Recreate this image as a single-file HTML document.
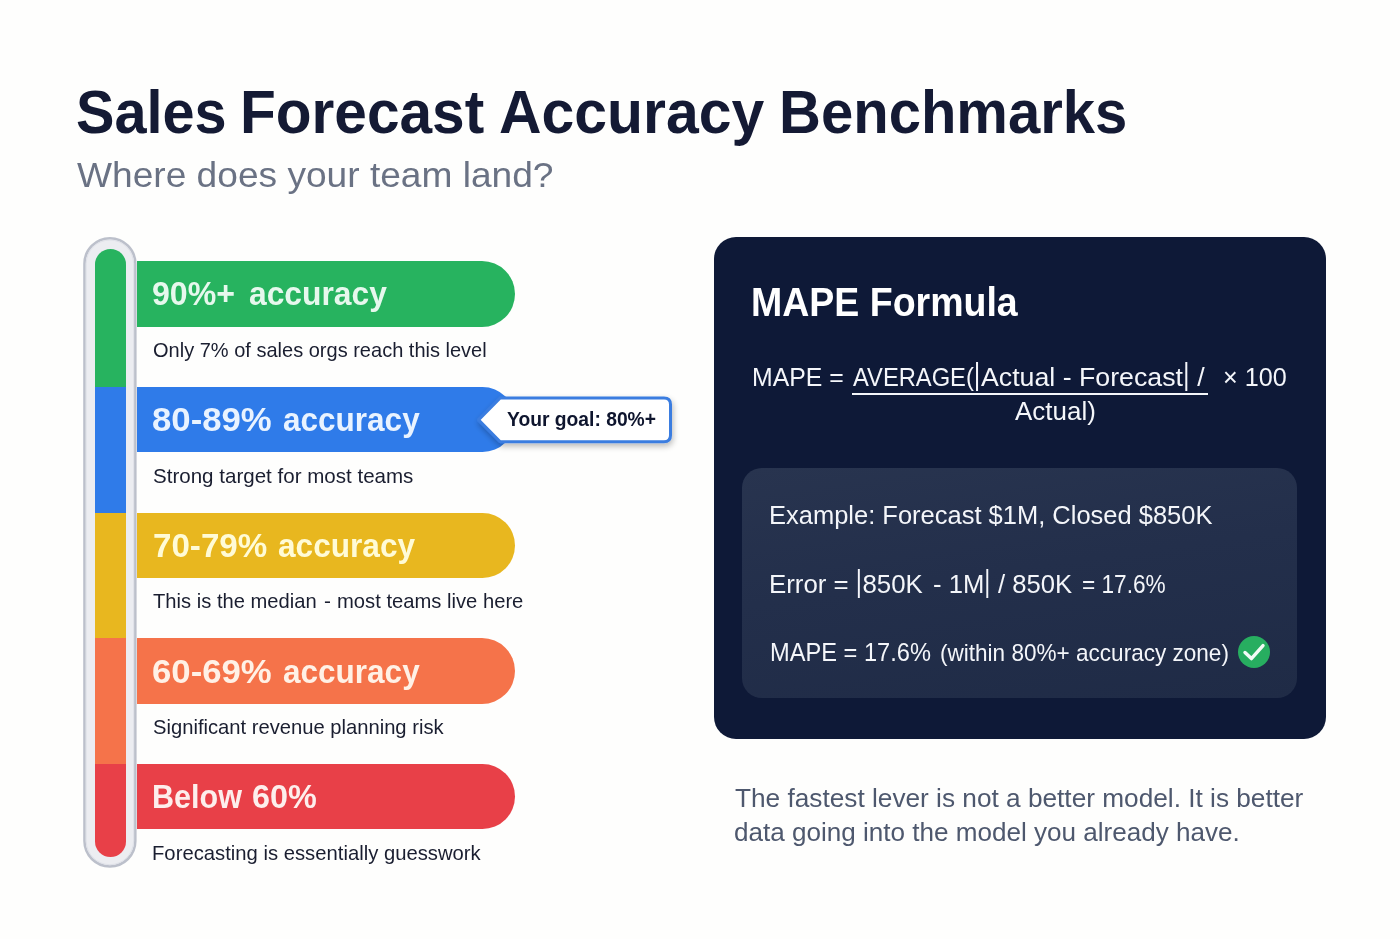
<!DOCTYPE html>
<html><head><meta charset="utf-8"><title>Sales Forecast Accuracy Benchmarks</title>
<style>
html,body{margin:0;padding:0}
body{width:1400px;height:939px;position:relative;overflow:hidden;background:#fefefd;
 font-family:"Liberation Sans",sans-serif}
.t{position:absolute;white-space:nowrap;line-height:1;transform-origin:0 0}
.bar{position:absolute;left:136.6px;width:378.4px;height:65.3px;
 border-radius:0 33px 33px 0}
.fill{position:absolute;left:94.6px;width:31.4px;border-radius:15.7px;overflow:hidden}
.card{position:absolute;left:713.5px;top:236.8px;width:612.3px;height:502.5px;border-radius:22px;background:#0e1937}
.inner{position:absolute;left:742.2px;top:468.2px;width:555.2px;height:230.2px;border-radius:20px;background:linear-gradient(172deg,#28344f 0%,#232f4b 45%,#1f2b46 100%)}
.vb{position:relative;color:transparent}
.vb::after{content:"";position:absolute;left:50%;margin-left:-1.05px;width:2.1px;top:-0.2px;bottom:0.9px;background:#f4f6fa}
.frac{position:absolute;left:851.5px;top:392.9px;width:356.8px;height:2.1px;background:#f4f6fa}
</style></head><body>
<svg style="position:absolute;left:80px;top:230px" width="60" height="645" viewBox="80 230 60 645"><rect x="84.45" y="238.25" width="50.9" height="628.2" rx="25.45" fill="#ecedf1" stroke="#bcc0cb" stroke-width="2.5"/><rect x="86.2" y="240" width="47.4" height="624.7" rx="23.7" fill="none" stroke="#dfe1e8" stroke-width="1"/></svg><div class="fill" style="top:248.7px;height:607.9px"><div style="position:absolute;left:0;width:100%;top:0.0px;height:139.0px;background:#27b35f"></div><div style="position:absolute;left:0;width:100%;top:138.5px;height:126.3px;background:#2f7be9"></div><div style="position:absolute;left:0;width:100%;top:264.3px;height:125.9px;background:#e8b71f"></div><div style="position:absolute;left:0;width:100%;top:389.7px;height:126.2px;background:#f5734a"></div><div style="position:absolute;left:0;width:100%;top:515.4px;height:93.0px;background:#e84048"></div></div>
<div class="bar" style="top:261.3px;background:#27b35f"></div>
<div class="bar" style="top:387.2px;background:#2f7be9"></div>
<div class="bar" style="top:513.0px;background:#e8b71f"></div>
<div class="bar" style="top:638.4px;background:#f5734a"></div>
<div class="bar" style="top:764.1px;background:#e84048"></div>
<svg style="position:absolute;left:460px;top:380px;overflow:visible" width="240" height="90" viewBox="460 380 240 90">
 <defs><filter id="ds" x="-20%" y="-40%" width="140%" height="200%">
  <feGaussianBlur in="SourceAlpha" stdDeviation="3"/><feOffset dx="1" dy="3"/>
  <feComponentTransfer><feFuncA type="linear" slope="0.28"/></feComponentTransfer>
  <feMerge><feMergeNode/><feMergeNode in="SourceGraphic"/></feMerge></filter></defs>
 <path filter="url(#ds)" d="M500.2 397.9 H664 Q670.5 397.9 670.5 404.4 V435.3 Q670.5 441.8 664 441.8 H500.2 L478.5 419.85 Z"
  fill="#ffffff" stroke="#3a7de0" stroke-width="3" stroke-linejoin="round"/>
</svg>
<div class="card"></div>
<div class="inner"></div>
<div class="frac"></div>
<svg style="position:absolute;left:1238.4px;top:635.7px" width="32" height="32" viewBox="0 0 32 32">
 <circle cx="16" cy="16" r="16" fill="#27ae60"/>
 <path d="M7.0 16.5 L13.4 22.6 L25.0 9.6" fill="none" stroke="#f3fbf6" stroke-width="3.4" stroke-linecap="round" stroke-linejoin="round"/>
</svg>
<div class="t" style="left:76.16px;top:82px;font-size:61.05px;font-weight:700;color:#141a34;transform:scaleX(0.9446)">Sales</div>
<div class="t" style="left:239.91px;top:82px;font-size:61.05px;font-weight:700;color:#141a34;transform:scaleX(0.9595)">Forecast</div>
<div class="t" style="left:498.54px;top:82px;font-size:61.05px;font-weight:700;color:#141a34;transform:scaleX(0.9646)">Accuracy</div>
<div class="t" style="left:779.20px;top:82px;font-size:61.05px;font-weight:700;color:#141a34;transform:scaleX(0.9506)">Benchmarks</div>
<div class="t" style="left:76.90px;top:158px;font-size:34.88px;font-weight:400;color:#6a7284;transform:scaleX(1.0641)">Where does your team land?</div>
<div class="t" style="left:152.42px;top:278px;font-size:32.7px;font-weight:700;color:#e6f8ed;transform:scaleX(0.9815)">90%+</div>
<div class="t" style="left:248.60px;top:278px;font-size:32.7px;font-weight:700;color:#e6f8ed;transform:scaleX(0.9726)">accuracy</div>
<div class="t" style="left:153.40px;top:340px;font-size:20.2px;font-weight:400;color:#1a1e30;transform:scaleX(0.9913)">Only 7% of sales orgs reach this level</div>
<div class="t" style="left:152.34px;top:404px;font-size:32.7px;font-weight:700;color:#e9f3ff;transform:scaleX(1.0627)">80-89%</div>
<div class="t" style="left:282.90px;top:404px;font-size:32.7px;font-weight:700;color:#e9f3ff;transform:scaleX(0.9641)">accuracy</div>
<div class="t" style="left:153.40px;top:466px;font-size:20.2px;font-weight:400;color:#1a1e30;transform:scaleX(1.0179)">Strong target for most teams</div>
<div class="t" style="left:152.99px;top:530px;font-size:32.7px;font-weight:700;color:#fffbd6;transform:scaleX(1.0134)">70-79%</div>
<div class="t" style="left:278.00px;top:530px;font-size:32.7px;font-weight:700;color:#fffbd6;transform:scaleX(0.9669)">accuracy</div>
<div class="t" style="left:153.40px;top:591px;font-size:20.2px;font-weight:400;color:#1a1e30;transform:scaleX(0.9995)">This is the median</div>
<div class="t" style="left:323.60px;top:591px;font-size:20.2px;font-weight:400;color:#1a1e30;transform:scaleX(1.0333)">-</div>
<div class="t" style="left:336.80px;top:591px;font-size:20.2px;font-weight:400;color:#1a1e30;transform:scaleX(1.0005)">most teams live here</div>
<div class="t" style="left:152.34px;top:656px;font-size:32.7px;font-weight:700;color:#fff1e6;transform:scaleX(1.0627)">60-69%</div>
<div class="t" style="left:282.90px;top:656px;font-size:32.7px;font-weight:700;color:#fff1e6;transform:scaleX(0.9641)">accuracy</div>
<div class="t" style="left:153.40px;top:717px;font-size:20.2px;font-weight:400;color:#1a1e30;transform:scaleX(0.9998)">Significant revenue planning risk</div>
<div class="t" style="left:151.53px;top:781px;font-size:32.7px;font-weight:700;color:#fdeeec;transform:scaleX(0.9343)">Below</div>
<div class="t" style="left:252.41px;top:781px;font-size:32.7px;font-weight:700;color:#fdeeec;transform:scaleX(0.9898)">60%</div>
<div class="t" style="left:152.40px;top:843px;font-size:20.2px;font-weight:400;color:#1a1e30;transform:scaleX(1.0033)">Forecasting is essentially guesswork</div>
<div class="t" style="left:507.20px;top:409px;font-size:20.35px;font-weight:700;color:#0e152e;transform:scaleX(0.9470)">Your goal: 80%+</div>
<div class="t" style="left:751.42px;top:283px;font-size:39.97px;font-weight:700;color:#ffffff;transform:scaleX(0.9381)">MAPE Formula</div>
<div class="t" style="left:751.72px;top:364px;font-size:26.45px;font-weight:400;color:#f4f6fa;transform:scaleX(0.9384)">MAPE =</div>
<div class="t" style="left:853.00px;top:364px;font-size:26.45px;font-weight:400;color:#f4f6fa;transform:scaleX(0.8972)">AVERAGE(</div>
<div class="t" style="left:974.28px;top:364px;font-size:26.45px;font-weight:400;color:#f4f6fa;transform:scaleX(1.0110)"><span class="vb">|</span>Actual - Forecast<span class="vb">|</span> /</div>
<div class="t" style="left:1222.55px;top:364px;font-size:26.45px;font-weight:400;color:#f4f6fa;transform:scaleX(0.9526)">× 100</div>
<div class="t" style="left:1014.90px;top:398px;font-size:26.45px;font-weight:400;color:#f4f6fa;transform:scaleX(0.9819)">Actual)</div>
<div class="t" style="left:769.37px;top:502px;font-size:26.45px;font-weight:400;color:#f4f6fa;transform:scaleX(0.9642)">Example: Forecast $1M, Closed $850K</div>
<div class="t" style="left:769.35px;top:571px;font-size:26.45px;font-weight:400;color:#f4f6fa;transform:scaleX(0.9765)">Error = <span class="vb">|</span>850K</div>
<div class="t" style="left:933.03px;top:571px;font-size:26.45px;font-weight:400;color:#f4f6fa;transform:scaleX(0.9693)">- 1M<span class="vb">|</span> / 850K</div>
<div class="t" style="left:1081.64px;top:571px;font-size:26.45px;font-weight:400;color:#f4f6fa;transform:scaleX(0.8562)">= 17.6%</div>
<div class="t" style="left:769.51px;top:639px;font-size:26.45px;font-weight:400;color:#f4f6fa;transform:scaleX(0.8940)">MAPE = 17.6%</div>
<div class="t" style="left:939.53px;top:642px;font-size:23.26px;font-weight:400;color:#f4f6fa;transform:scaleX(0.9699)">(within 80%+ accuracy zone)</div>
<div class="t" style="left:734.80px;top:785px;font-size:26.45px;font-weight:400;color:#4e586e;transform:scaleX(0.9917)">The fastest lever is not a better model. It is better</div>
<div class="t" style="left:734.01px;top:819px;font-size:26.45px;font-weight:400;color:#4e586e;transform:scaleX(0.9861)">data going into the model you already have.</div>
</body></html>
